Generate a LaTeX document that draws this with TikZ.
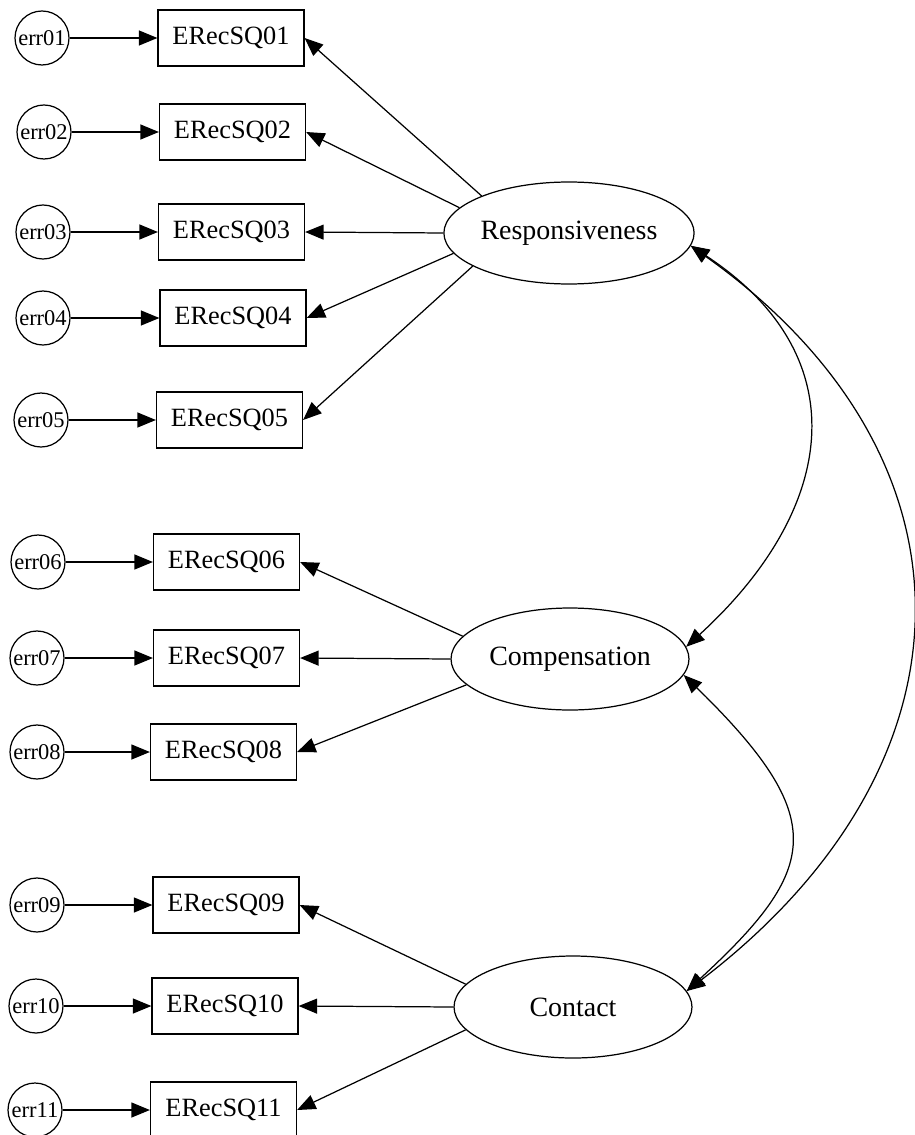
\documentclass[tikz,border=0pt]{standalone}
\usepackage{fontspec}
\setmainfont{Liberation Serif}
\usetikzlibrary{arrows.meta,shapes.geometric}
\begin{document}
\begin{tikzpicture}[x=0.02cm,y=-0.02cm,
  line width=0.7pt,
  indicator/.style={draw, rectangle, minimum width=2.92cm, minimum height=1.12cm,
    inner sep=0pt, font=\fontsize{15}{18}\selectfont},
  errterm/.style={draw, circle, minimum size=1.08cm, inner sep=0pt,
    font=\fontsize{12.8}{15}\selectfont},
  latent/.style={draw, ellipse, minimum width=4.76cm, minimum height=2.04cm,
    inner sep=0pt, font=\fontsize{15.9}{19}\selectfont},
  load/.style={-{Triangle[length=10.5pt,width=8.5pt]}},
  cov/.style={{Triangle[length=10.5pt,width=8.5pt]}-{Triangle[length=10.5pt,width=8.5pt]}}]
\useasboundingbox (0,0) rectangle (915,1135);

% observed indicators
\node[indicator] (b1)  at (231,38)    {ERecSQ01};
\node[indicator] (b2)  at (232.5,132) {ERecSQ02};
\node[indicator] (b3)  at (231.5,232) {ERecSQ03};
\node[indicator] (b4)  at (233,318)   {ERecSQ04};
\node[indicator] (b5)  at (229.5,420) {ERecSQ05};
\node[indicator] (b6)  at (226.5,562) {ERecSQ06};
\node[indicator] (b7)  at (226.5,658) {ERecSQ07};
\node[indicator] (b8)  at (223.5,752) {ERecSQ08};
\node[indicator] (b9)  at (226,905)   {ERecSQ09};
\node[indicator] (b10) at (225,1006)  {ERecSQ10};
\node[indicator] (b11) at (223.5,1110){ERecSQ11};

% error terms
\node[errterm] (e1)  at (42,38)   {err01};
\node[errterm] (e2)  at (44,132)  {err02};
\node[errterm] (e3)  at (43,232)  {err03};
\node[errterm] (e4)  at (43,318)  {err04};
\node[errterm] (e5)  at (41,420)  {err05};
\node[errterm] (e6)  at (38,562)  {err06};
\node[errterm] (e7)  at (37,658)  {err07};
\node[errterm] (e8)  at (37,752)  {err08};
\node[errterm] (e9)  at (37,905)  {err09};
\node[errterm] (e10) at (36,1006) {err10};
\node[errterm] (e11) at (35,1110) {err11};

% latent factors
\node[latent] (resp) at (569,233)  {Responsiveness};
\node[latent] (comp) at (570,659)  {Compensation};
\node[latent] (cont) at (573,1007) {Contact};

% error paths
\foreach \i in {1,...,11} \draw[load] (e\i) -- (b\i);

% factor loadings
\draw[load] (resp.157) -- (b1.east);
\draw[load] (resp.167) -- (b2.east);
\draw[load] (resp.180) -- (b3.east);
\draw[load] (resp.190) -- (b4.east);
\draw[load] (resp.199) -- (b5.east);
\draw[load] (comp.168) -- (b6.east);
\draw[load] (comp.180) -- (b7.east);
\draw[load] (comp.194) -- (b8.east);
\draw[load] (cont.168) -- (b9.east);
\draw[load] (cont.180) -- (b10.east);
\draw[load] (cont.192) -- (b11.east);

% covariances
\draw[cov] (resp.-6) .. controls (857,355) and (839,507) .. (comp.6);
\draw[cov] (comp.-8) .. controls (831,819) and (819,869) .. (cont.8);
\draw[cov] (resp.-6) .. controls (988,457) and (984,764) .. (cont.8);
\end{tikzpicture}
\end{document}
